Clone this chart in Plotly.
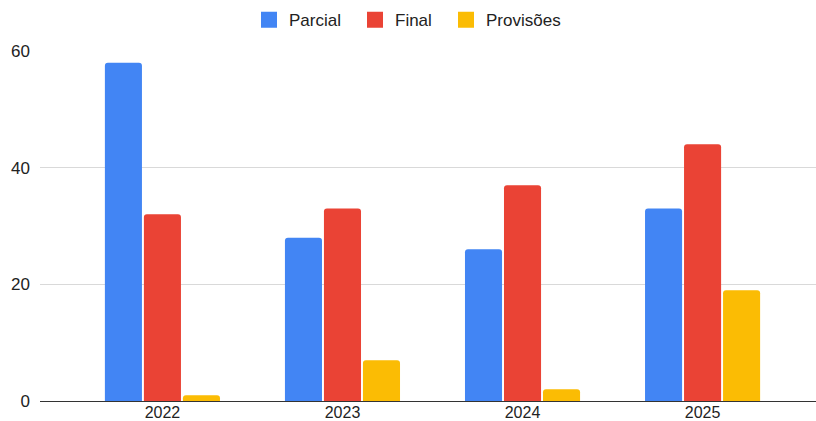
import plotly.graph_objects as go

years = ["2022", "2023", "2024", "2025"]
parcial = [58, 28, 26, 33]
final = [32, 33, 37, 44]
provisoes = [1, 7, 2, 19]

series = [
    ("Parcial", parcial, "#4285F4", 61),
    ("Final", final, "#EA4335", 46),
    ("Provisões", provisoes, "#FBBC04", 76),
]

fig = go.Figure()
for name, vals, color, _ in series:
    fig.add_trace(go.Bar(
        x=years, y=vals, name=name, legendgroup=name, showlegend=False,
        marker=dict(color=color, line=dict(width=0)),
    ))

# square swatches for the legend (bars with rounded corners show as dots)
for name, vals, color, lw in series:
    fig.add_trace(go.Scatter(
        x=[None], y=[None], mode="markers", name=name, legendgroup=name,
        legendwidth=lw,
        marker=dict(symbol="square", size=16, color=color, line=dict(width=0)),
        hoverinfo="skip",
    ))

fig.update_layout(
    width=816, height=421,
    margin=dict(l=40, r=0, t=51, b=20),
    paper_bgcolor="white", plot_bgcolor="white",
    font=dict(family="Liberation Sans, Arial, sans-serif", size=17, color="#222222"),
    barmode="group",
    bargap=0.35,
    bargroupgap=0.05,
    barcornerradius=3,
    showlegend=True,
    legend=dict(
        orientation="h", x=0.5, xanchor="center", xref="container",
        y=0.952, yanchor="middle", yref="container",
        font=dict(size=17, color="#222222"),
        itemwidth=30, traceorder="normal",
    ),
    xaxis=dict(
        type="category", range=[-0.68, 3.63],
        showgrid=False, showline=True, linecolor="#333333", linewidth=1,
        ticks="", tickfont=dict(size=16, color="#222222"),
        ticklabelstandoff=-3, automargin=False,
    ),
    yaxis=dict(
        range=[0, 60], tickvals=[0, 20, 40, 60],
        showgrid=True, gridcolor="#d9d9d9", gridwidth=1,
        zeroline=False, showline=False, ticks="",
        tickfont=dict(size=17, color="#222222"),
        ticklabelstandoff=9, automargin=False,
    ),
)

fig.write_html("out.html")
